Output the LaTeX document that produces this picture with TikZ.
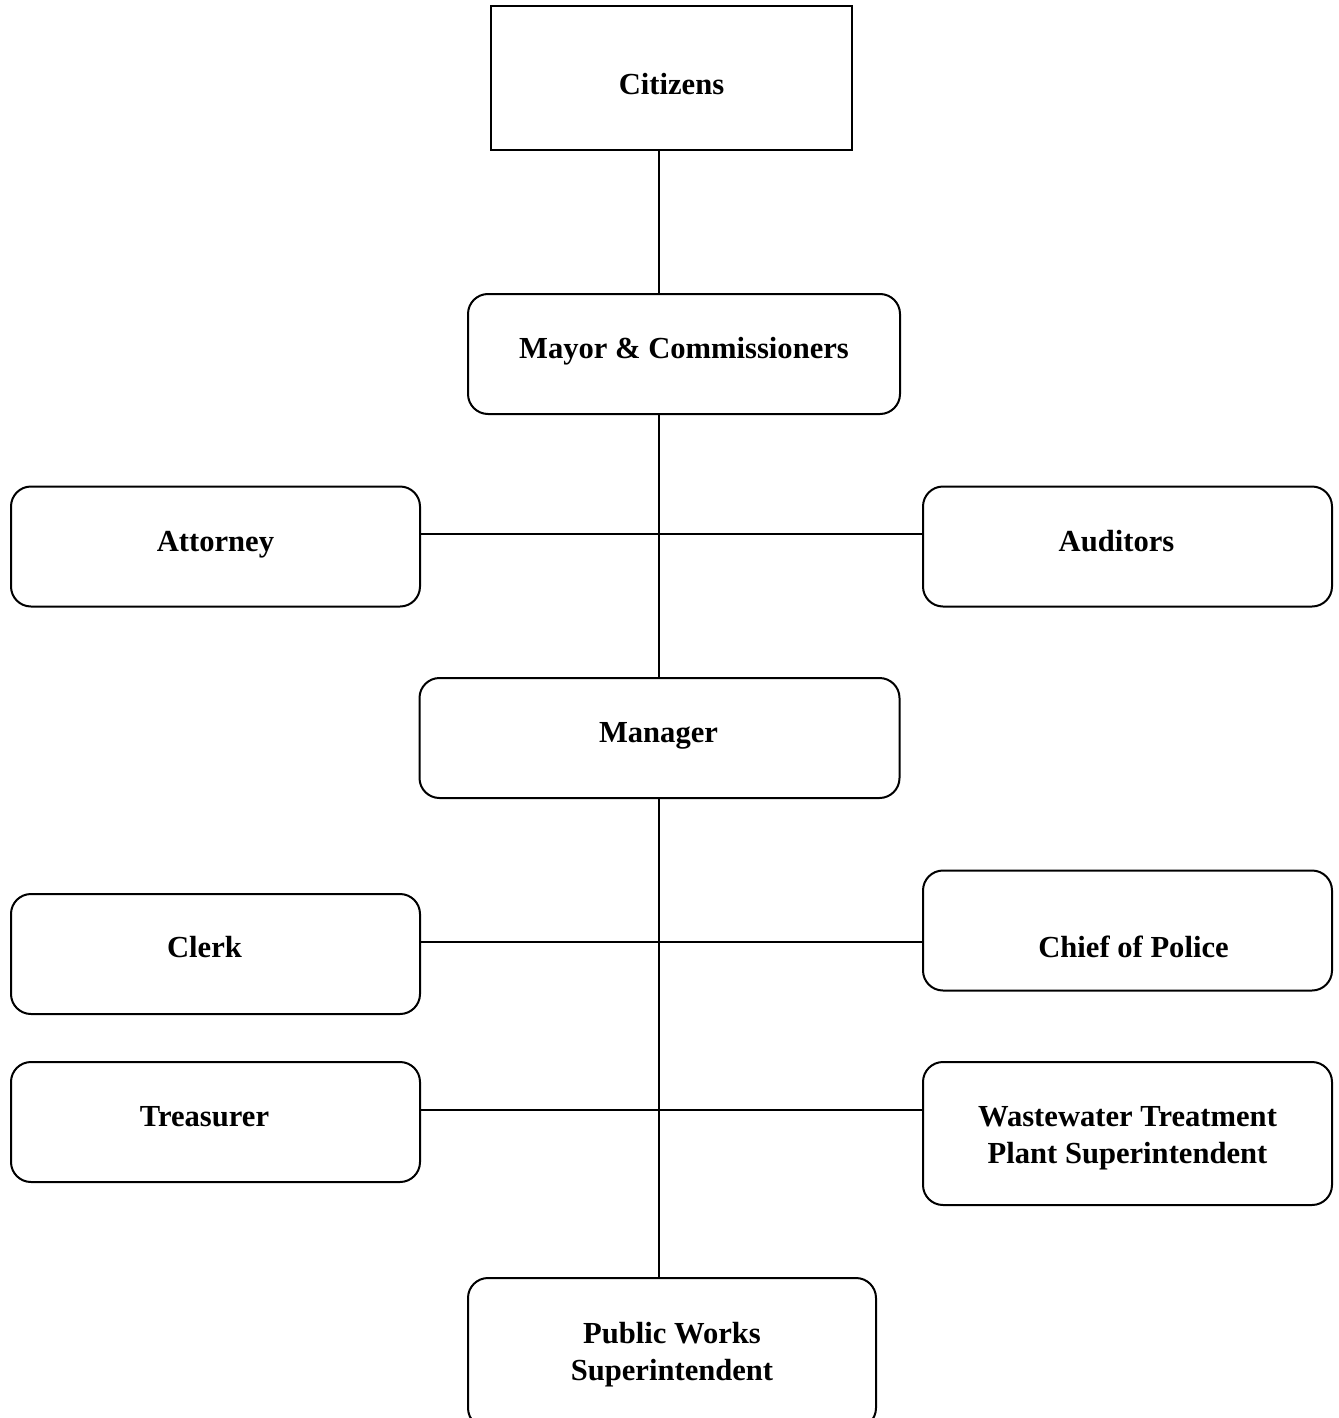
\documentclass[tikz,border=0pt]{standalone}
\usepackage{fontspec}
\setmainfont{Liberation Serif}
\usetikzlibrary{positioning, calc}

\begin{document}
\begin{tikzpicture}[
    x=0.5pt, y=-0.5pt,
    council/.style={rectangle, draw, line width=1pt, inner sep=0pt},
    office/.style={rectangle, draw, line width=1pt, rounded corners=10pt, inner sep=0pt, minimum width=204.5pt, minimum height=60pt},
    caption/.style={font=\fontsize{15.3}{18.5}\selectfont\bfseries, align=center, inner sep=0pt},
    edge/.style={-, line width=1pt}
]
\clip (0,0) rectangle (1338,1418);

% Top of the chart
\node[council, minimum width=180.5pt, minimum height=72pt, label={[caption, shift={(0,6)}]center:Citizens}] (Citizens) at (671.5,78) {};
\node[office, minimum width=216pt, label={[caption, shift={(0,-3)}]center:Mayor \& Commissioners}] (Mayor) at (684,354) {};

% Advisors
\node[office, label={[caption, shift={(0,-2)}]center:Attorney}] (Attorney) at (215.5,546.5) {};
\node[office, label={[caption, shift={(-11,-5)}]center:Auditors}] (Auditors) at (1127.5,546.5) {};

% Manager
\node[office, minimum width=240pt, label={[caption, shift={(-1,-2)}]center:Manager}] (Manager) at (659.5,738) {};

% Departments
\node[office, label={[caption, shift={(-11,-7)}]center:Clerk}] (Clerk) at (215.5,954) {};
\node[office, label={[caption, shift={(6,16)}]center:Chief of Police}] (Police) at (1127.5,930.5) {};
\node[office, label={[caption, shift={(-11,-5)}]center:Treasurer}] (Treasurer) at (215.5,1122) {};
\node[office, minimum height=71.5pt, label={[caption, shift={(0,5)}]center:Wastewater Treatment\\Plant Superintendent}] (Wastewater) at (1127.5,1133.5) {};
\node[office, minimum width=204pt, minimum height=75pt, label={[caption, shift={(0,2)}]center:Public Works\\Superintendent}] (Works) at (672,1353) {};

% Junctions on the trunk
\coordinate (TierA) at (659,534);
\coordinate (TierB) at (659,942);
\coordinate (TierC) at (659,1110);

% Trunk
\draw[edge] (Citizens.south -| TierA) -- (Mayor.north -| TierA);
\draw[edge] (Mayor.south -| TierA) -- (Manager.north -| TierA);
\draw[edge] (Manager.south -| TierA) -- (Works.north -| TierA);

% Branches
\draw[edge] (Attorney.east |- TierA) -- (Auditors.west |- TierA);
\draw[edge] (Clerk.east |- TierB) -- (Police.west |- TierB);
\draw[edge] (Treasurer.east |- TierC) -- (Wastewater.west |- TierC);

\end{tikzpicture}
\end{document}
